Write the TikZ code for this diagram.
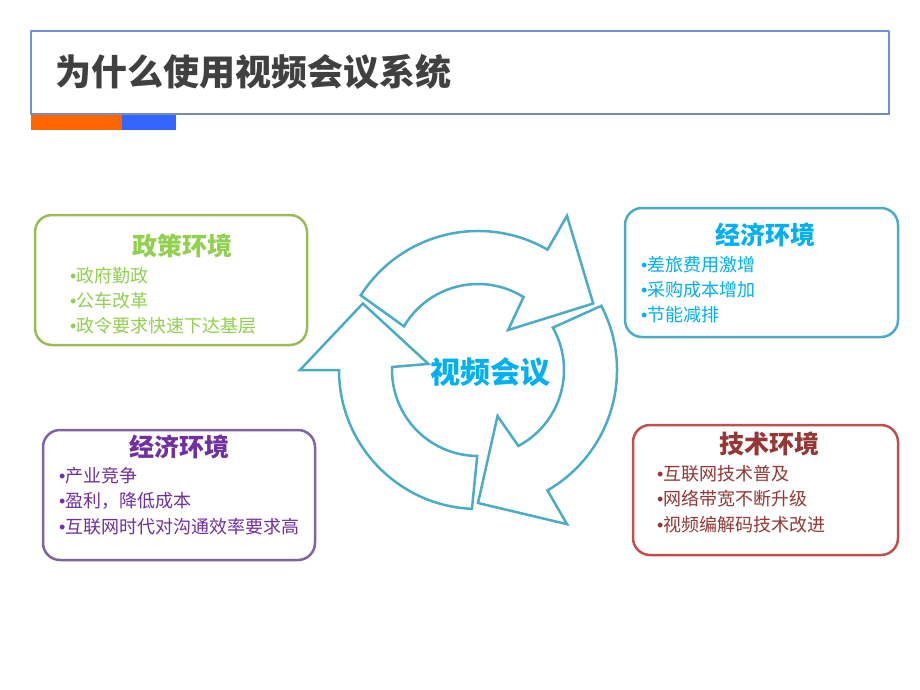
\documentclass[tikz,border=0pt]{standalone}
\usepackage{fontspec}
\setmainfont{Noto Sans CJK SC}
\newfontfamily\bulletfont{Liberation Sans}
\usetikzlibrary{calc}
\definecolor{titlegray}{HTML}{404040}
\definecolor{frameblue}{HTML}{7090D8}
\definecolor{barorange}{HTML}{FF6600}
\definecolor{barblue}{HTML}{3366FF}
\definecolor{cyclecol}{HTML}{4BACC6}
\definecolor{skyblue}{HTML}{00B0F0}
\definecolor{greenline}{HTML}{9BBB59}
\definecolor{greentext}{HTML}{92D050}
\definecolor{purpleline}{HTML}{8064A2}
\definecolor{purpletext}{HTML}{7030A0}
\definecolor{redline}{HTML}{C0504D}
\definecolor{redtext}{HTML}{953735}
\newcommand{\itm}{{\bulletfont •}}
\tikzset{
  envbox/.style={line width=2.5pt, rounded corners=17pt, fill=white},
  envhead/.style={font=\fontsize{25}{28}\selectfont\bfseries, inner sep=0pt},
  envitem/.style={font=\fontsize{18}{20}\selectfont, anchor=west, inner sep=0pt},
  cyclearrow/.style={draw=cyclecol, line width=2.5pt, fill=white, line join=miter}
}
\begin{document}
\begin{tikzpicture}[x=1pt, y=-1pt, line cap=round, line join=round]
		\useasboundingbox (0,0) rectangle (920,690);
		% title bar
		\draw[frameblue, line width=1.2pt] (31,31) rectangle (889,114);
		\draw[frameblue!70!gray, line width=2pt] (31,114)--(889,114);
		\fill[barorange] (31,115) rectangle (122,130);
		\fill[barblue] (122,115) rectangle (176,130);
		\node[anchor=west, inner sep=0pt, text=titlegray, font=\fontsize{36}{40}\selectfont\bfseries] (title) at (55,72) {为什么使用视频会议系统};
		% cycle
		\coordinate (C) at (478,370);
		\foreach \e in {300,60,180}{
			\draw[cyclearrow] ([shift={(\e-87.5:139)}]C) arc[start angle=\e-87.5, end angle=\e, radius=139]
				-- ([shift={(\e:178)}]C) -- ([shift={(\e+30:133)}]C) -- ([shift={(\e+7:50)}]C)
				-- ([shift={(\e+2:86)}]C) arc[start angle=\e+2, end angle=\e-89.5, radius=86] -- cycle;
		}
		\node[text=skyblue, inner sep=0pt, font=\fontsize{30}{32}\selectfont\bfseries] (vc) at (490,372) {视频会议};
		% policy
		\draw[envbox, draw=greenline] (35,215) rectangle (307,345);
		\node[envhead, text=greentext] (policy) at (182,246) {政策环境};
		\node[envitem, text=greentext] (policyA) at (70,276) {\itm{}政府勤政};
		\node[envitem, text=greentext] (policyB) at (70,301) {\itm{}公车改革};
		\node[envitem, text=greentext] (policyC) at (70,326) {\itm{}政令要求快速下达基层};
		% economy (right)
		\draw[envbox, draw=cyclecol] (625,208) rectangle (898,337);
		\node[envhead, text=skyblue] (econR) at (765,235) {经济环境};
		\node[envitem, text=skyblue] (econRA) at (641,265) {\itm{}差旅费用激增};
		\node[envitem, text=skyblue] (econRB) at (641,290) {\itm{}采购成本增加};
		\node[envitem, text=skyblue] (econRC) at (641,315) {\itm{}节能减排};
		% economy (left)
		\draw[envbox, draw=purpleline] (43,430) rectangle (315,560);
		\node[envhead, text=purpletext] (econL) at (179,447) {经济环境};
		\node[envitem, text=purpletext] (econLA) at (59,476) {\itm{}产业竞争};
		\node[envitem, text=purpletext] (econLB) at (59,501) {\itm{}盈利，降低成本};
		\node[envitem, text=purpletext] (econLC) at (59,527) {\itm{}互联网时代对沟通效率要求高};
		% technology
		\draw[envbox, draw=redline] (633,425) rectangle (898,555);
		\node[envhead, text=redtext] (tech) at (769,444) {技术环境};
		\node[envitem, text=redtext] (techA) at (657,474) {\itm{}互联网技术普及};
		\node[envitem, text=redtext] (techB) at (657,499) {\itm{}网络带宽不断升级};
		\node[envitem, text=redtext] (techC) at (657,525) {\itm{}视频编解码技术改进};
\end{tikzpicture}
\end{document}
